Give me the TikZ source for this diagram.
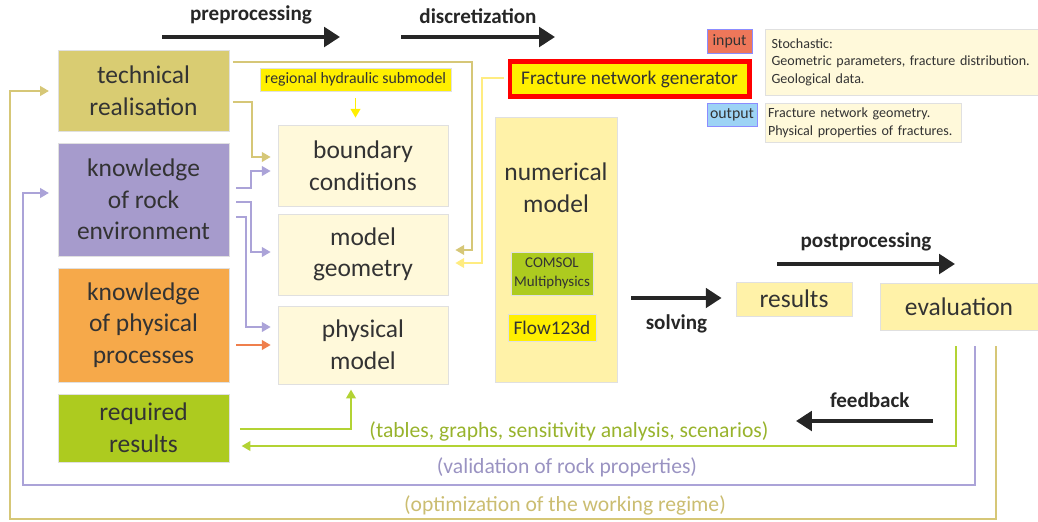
\documentclass[tikz,border=0pt]{standalone}
\usepackage{fontspec}
\setmainfont{Carlito}
\usetikzlibrary{arrows.meta}
\definecolor{khaki}{HTML}{D9CC72}
\definecolor{khakiline}{HTML}{D6C777}
\definecolor{lavender}{HTML}{A69BCC}
\definecolor{lavline}{HTML}{ABA3D8}
\definecolor{orangebox}{HTML}{F6A94A}
\definecolor{orangeline}{HTML}{EF7F4C}
\definecolor{greenbox}{HTML}{ADCB1F}
\definecolor{greenline}{HTML}{B3D334}
\definecolor{cream}{HTML}{FFF9DA}
\definecolor{paleyellow}{HTML}{FFF2A8}
\definecolor{brightyellow}{HTML}{FFEF00}
\definecolor{fngline}{HTML}{FFEC80}
\definecolor{inputred}{HTML}{EE775A}
\definecolor{outputblue}{HTML}{9DD3F5}
\definecolor{txt}{HTML}{333333}
\tikzset{
  box/.style={draw=black!12, text=txt, align=center, inner sep=0pt, font=\fontsize{14.5}{18}\selectfont},
  small/.style={draw=black!12, text=txt, align=center, inner sep=0pt, font=\fontsize{9}{10.5}\selectfont},
  note/.style={draw=black!12, fill=cream, text=txt, align=left, inner sep=0pt, font=\fontsize{8}{10}\selectfont},
  step label/.style={font=\fontsize{12}{14}\selectfont\bfseries, text=black!85},
  bigarrow/.style={draw=black!85, line width=2.3pt, -{Triangle[length=9pt,width=11pt]}},
  link/.style={line width=1.1pt, -{Triangle[length=5pt,width=5.5pt]}},
  loop label/.style={font=\fontsize{12.3}{14}\selectfont}
}
\begin{document}
\begin{tikzpicture}[x=0.02cm,y=-0.02cm]
\useasboundingbox (0,0) rectangle (1038,521);
\node[box, fill=khaki, minimum width=3.42cm, minimum height=1.62cm] (tech) at (143.5,90.5) {technical\\realisation};
\node[box, fill=lavender, minimum width=3.42cm, minimum height=2.26cm] (rock) at (143.5,199.5) {knowledge\\of rock\\environment};
\node[box, fill=orangebox, minimum width=3.42cm, minimum height=2.28cm] (proc) at (143.5,325) {knowledge\\of physical\\processes};
\node[box, fill=greenbox, minimum width=3.42cm, minimum height=1.36cm] (req) at (143.5,428) {required\\results};
\node[box, fill=cream, minimum width=3.4cm, minimum height=1.62cm] (bc) at (363,165.5) {boundary\\conditions};
\node[box, fill=cream, minimum width=3.4cm, minimum height=1.62cm] (geom) at (363,254.5) {model\\geometry};
\node[box, fill=cream, minimum width=3.4cm, minimum height=1.56cm] (phys) at (363,345) {physical\\model};
\node[small, fill=brightyellow, minimum width=3.82cm, minimum height=0.46cm] (rhs) at (355.5,79.5) {regional hydraulic submodel};
\node[box, fill=brightyellow, draw=red, line width=2.3pt, minimum width=4.8cm, minimum height=0.7cm, font=\fontsize{11}{13}\selectfont] (fng) at (629.5,79) {Fracture network generator};
\node[box, fill=paleyellow, minimum width=2.44cm, minimum height=5.3cm] (num) at (556,249.5) {};
\node[text=txt, align=center, font=\fontsize{14.5}{18}\selectfont] (numtxt) at (556,188) {numerical\\model};
\node[small, fill=greenbox, minimum width=1.64cm, minimum height=0.86cm, font=\fontsize{8.5}{10.5}\selectfont] (comsol) at (552,273.5) {COMSOL\\Multiphysics};
\node[small, fill=brightyellow, minimum width=1.76cm, minimum height=0.54cm, font=\fontsize{11}{13}\selectfont] (flow) at (552,327.5) {Flow123d};
\node[small, fill=inputred, draw=blue!45, minimum width=0.9cm, minimum height=0.48cm] (input) at (729.5,41) {input};
\node[small, fill=outputblue, draw=blue!45, minimum width=1.0cm, minimum height=0.46cm] (output) at (732,114.5) {output};
\node[note, minimum width=5.46cm, minimum height=1.32cm, text width=5.2cm] (inbox) at (901.5,62) {Stochastic:\\Geometric parameters, fracture distribution.\\Geological data.};
\node[note, minimum width=3.92cm, minimum height=0.78cm, text width=3.8cm] (outbox) at (863,122.5) {Fracture network geometry.\\Physical properties of fractures.};
\node[box, fill=paleyellow, minimum width=2.32cm, minimum height=0.68cm] (results) at (794,299) {results};
\node[box, fill=paleyellow, minimum width=3.16cm, minimum height=0.94cm] (eval) at (959,306.5) {evaluation};

\coordinate (pre1) at (162,37);
\coordinate (pre2) at (340,37);
\coordinate (dis1) at (401,37);
\coordinate (dis2) at (555,37);
\coordinate (post1) at (777,264);
\coordinate (post2) at (955,264);
\coordinate (fb1) at (933,421);
\coordinate (fb2) at (796,421);
\draw[bigarrow] (pre1) -- (pre2) node[step label, midway, above=3pt] {preprocessing};
\draw[bigarrow] (dis1) -- (dis2) node[step label, midway, above=3pt] {discretization};
\draw[bigarrow] (post1) -- (post2) node[step label, midway, above=3pt] {postprocessing};
\draw[bigarrow] (fb1) -- (fb2) node[step label, midway, above=3pt, xshift=3pt] {feedback};
\draw[bigarrow, shorten <=8pt, shorten >=8pt] (num.east |- 0,298) -- (results.west |- 0,298) node[step label, midway, below=5pt] {solving};

\draw[link, khakiline, shorten <=2pt, shorten >=4pt] (tech.east |- 0,62) -| (472,250) -- (geom.east |- 0,250);
\draw[link, khakiline, shorten <=2pt, shorten >=4pt] (tech.east |- 0,102) -| (252,157) -- (bc.west |- 0,157);
\draw[link, lavline, shorten <=4pt, shorten >=4pt] (rock.east |- 0,188) -| (251,171) -- (bc.west |- 0,171);
\draw[link, lavline, shorten <=4pt, shorten >=4pt] (rock.east |- 0,202) -| (251,252) -- (geom.west |- 0,252);
\draw[link, lavline, shorten <=4pt, shorten >=4pt] (rock.east |- 0,217) -| (246,327) -- (phys.west |- 0,327);
\draw[link, orangeline, shorten <=4pt, shorten >=4pt] (proc.east |- 0,345) -- (phys.west |- 0,345);
\draw[link, greenline, shorten <=6pt, shorten >=3pt] (req.east |- 0,429) -| (phys.south -| 351,0);
\draw[link, brightyellow, shorten <=4pt, shorten >=4pt] (rhs.south) -- (bc.north -| rhs.south);
\draw[link, fngline, shorten <=2pt, shorten >=4pt] (fng.west |- 0,78) -| (482,263) -- (geom.east |- 0,263);

\draw[link, greenline, shorten <=9pt, shorten >=7pt] (eval.south -| 956,0) |- (req.east |- 0,446);
\draw[link, lavline, shorten <=9pt, shorten >=5pt] (eval.south -| 975,0) |- (23,485) |- (rock.west |- 0,193);
\draw[link, khakiline, shorten <=9pt, shorten >=5pt] (eval.south -| 996,0) |- (10,519) |- (tech.west |- 0,91);
\node[loop label, text=greenline!85!black] (tabl) at (569,431) {(tables, graphs, sensitivity analysis, scenarios)};
\node[loop label, text=lavline!90!black] (valid) at (567,467) {(validation of rock properties)};
\node[loop label, text=khakiline!95!black] (optim) at (565,505) {(optimization of the working regime)};
\end{tikzpicture}
\end{document}
